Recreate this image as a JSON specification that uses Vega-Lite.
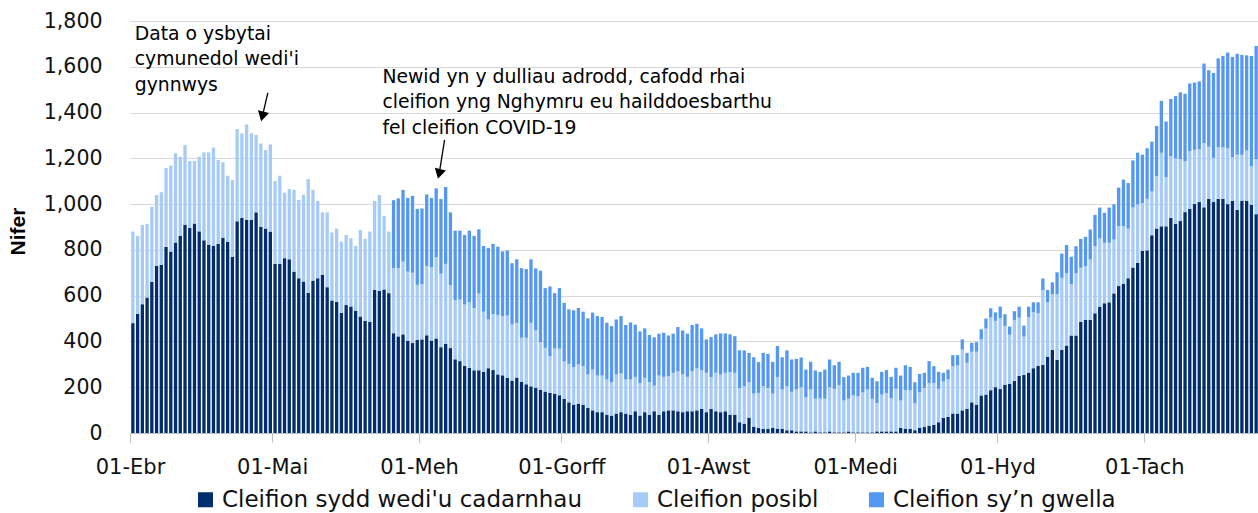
{
"$schema":"https://vega.github.io/schema/vega-lite/v6.json",
"autosize":{"type":"none"},
"padding":{"left":130,"top":21,"right":0,"bottom":80},
"width":1128,
"height":412,
"config":{"view":{"stroke":null},"font":"DejaVu Sans"},
"datasets":{
"bars":[
{"d":"2020-04-01","a":480,"b":400,"c":0},{"d":"2020-04-02","a":521,"b":340,"c":0},{"d":"2020-04-03","a":563,"b":346,"c":0},{"d":"2020-04-04","a":592,"b":321,"c":0},{"d":"2020-04-05","a":660,"b":328,"c":0},{"d":"2020-04-06","a":730,"b":310,"c":0},{"d":"2020-04-07","a":735,"b":317,"c":0},{"d":"2020-04-08","a":813,"b":345,"c":0},{"d":"2020-04-09","a":793,"b":375,"c":0},{"d":"2020-04-10","a":832,"b":390,"c":0},
{"d":"2020-04-11","a":861,"b":346,"c":0},{"d":"2020-04-12","a":910,"b":348,"c":0},{"d":"2020-04-13","a":896,"b":292,"c":0},{"d":"2020-04-14","a":915,"b":273,"c":0},{"d":"2020-04-15","a":881,"b":326,"c":0},{"d":"2020-04-16","a":842,"b":384,"c":0},{"d":"2020-04-17","a":823,"b":403,"c":0},{"d":"2020-04-18","a":817,"b":430,"c":0},{"d":"2020-04-19","a":826,"b":367,"c":0},{"d":"2020-04-20","a":852,"b":331,"c":0},
{"d":"2020-04-21","a":836,"b":288,"c":0},{"d":"2020-04-22","a":769,"b":336,"c":0},{"d":"2020-04-23","a":925,"b":403,"c":0},{"d":"2020-04-24","a":940,"b":369,"c":0},{"d":"2020-04-25","a":931,"b":417,"c":0},{"d":"2020-04-26","a":931,"b":378,"c":0},{"d":"2020-04-27","a":964,"b":338,"c":0},{"d":"2020-04-28","a":900,"b":365,"c":0},{"d":"2020-04-29","a":893,"b":343,"c":0},{"d":"2020-04-30","a":880,"b":381,"c":0},
{"d":"2020-05-01","a":739,"b":362,"c":0},{"d":"2020-05-02","a":739,"b":385,"c":0},{"d":"2020-05-03","a":764,"b":286,"c":0},{"d":"2020-05-04","a":759,"b":307,"c":0},{"d":"2020-05-05","a":705,"b":357,"c":0},{"d":"2020-05-06","a":676,"b":342,"c":0},{"d":"2020-05-07","a":662,"b":379,"c":0},{"d":"2020-05-08","a":612,"b":498,"c":0},{"d":"2020-05-09","a":666,"b":396,"c":0},{"d":"2020-05-10","a":676,"b":338,"c":0},
{"d":"2020-05-11","a":691,"b":273,"c":0},{"d":"2020-05-12","a":637,"b":327,"c":0},{"d":"2020-05-13","a":579,"b":297,"c":0},{"d":"2020-05-14","a":573,"b":320,"c":0},{"d":"2020-05-15","a":525,"b":311,"c":0},{"d":"2020-05-16","a":559,"b":306,"c":0},{"d":"2020-05-17","a":553,"b":298,"c":0},{"d":"2020-05-18","a":534,"b":283,"c":0},{"d":"2020-05-19","a":509,"b":378,"c":0},{"d":"2020-05-20","a":490,"b":358,"c":0},
{"d":"2020-05-21","a":486,"b":394,"c":0},{"d":"2020-05-22","a":625,"b":389,"c":0},{"d":"2020-05-23","a":621,"b":419,"c":0},{"d":"2020-05-24","a":627,"b":321,"c":0},{"d":"2020-05-25","a":611,"b":269,"c":0},{"d":"2020-05-26","a":436,"b":284,"c":297},{"d":"2020-05-27","a":422,"b":298,"c":305},{"d":"2020-05-28","a":431,"b":318,"c":313},{"d":"2020-05-29","a":403,"b":302,"c":322},{"d":"2020-05-30","a":393,"b":307,"c":336},{"d":"2020-05-31","a":407,"b":240,"c":332},
{"d":"2020-06-01","a":409,"b":242,"c":330},{"d":"2020-06-02","a":427,"b":303,"c":312},{"d":"2020-06-03","a":404,"b":321,"c":302},{"d":"2020-06-04","a":413,"b":355,"c":301},{"d":"2020-06-05","a":375,"b":321,"c":326},{"d":"2020-06-06","a":390,"b":349,"c":336},{"d":"2020-06-07","a":371,"b":275,"c":318},{"d":"2020-06-08","a":322,"b":258,"c":304},{"d":"2020-06-09","a":314,"b":269,"c":301},{"d":"2020-06-10","a":293,"b":268,"c":304},
{"d":"2020-06-11","a":284,"b":287,"c":313},{"d":"2020-06-12","a":274,"b":272,"c":315},{"d":"2020-06-13","a":274,"b":335,"c":281},{"d":"2020-06-14","a":267,"b":263,"c":287},{"d":"2020-06-15","a":283,"b":213,"c":313},{"d":"2020-06-16","a":275,"b":245,"c":306},{"d":"2020-06-17","a":256,"b":260,"c":298},{"d":"2020-06-18","a":252,"b":258,"c":283},{"d":"2020-06-19","a":241,"b":272,"c":284},{"d":"2020-06-20","a":229,"b":245,"c":268},
{"d":"2020-06-21","a":242,"b":239,"c":278},{"d":"2020-06-22","a":223,"b":193,"c":304},{"d":"2020-06-23","a":213,"b":203,"c":300},{"d":"2020-06-24","a":204,"b":277,"c":278},{"d":"2020-06-25","a":198,"b":250,"c":271},{"d":"2020-06-26","a":188,"b":209,"c":312},{"d":"2020-06-27","a":181,"b":191,"c":261},{"d":"2020-06-28","a":175,"b":161,"c":304},{"d":"2020-06-29","a":172,"b":197,"c":242},{"d":"2020-06-30","a":165,"b":203,"c":265},
{"d":"2020-07-01","a":149,"b":163,"c":257},{"d":"2020-07-02","a":134,"b":168,"c":238},{"d":"2020-07-03","a":124,"b":164,"c":248},{"d":"2020-07-04","a":128,"b":171,"c":247},{"d":"2020-07-05","a":123,"b":169,"c":238},{"d":"2020-07-06","a":110,"b":146,"c":245},{"d":"2020-07-07","a":99,"b":178,"c":249},{"d":"2020-07-08","a":91,"b":160,"c":260},{"d":"2020-07-09","a":91,"b":160,"c":256},{"d":"2020-07-10","a":80,"b":154,"c":248},
{"d":"2020-07-11","a":76,"b":146,"c":245},{"d":"2020-07-12","a":85,"b":171,"c":240},{"d":"2020-07-13","a":91,"b":169,"c":251},{"d":"2020-07-14","a":85,"b":149,"c":238},{"d":"2020-07-15","a":80,"b":154,"c":249},{"d":"2020-07-16","a":95,"b":150,"c":228},{"d":"2020-07-17","a":76,"b":142,"c":226},{"d":"2020-07-18","a":91,"b":150,"c":216},{"d":"2020-07-19","a":80,"b":142,"c":206},{"d":"2020-07-20","a":95,"b":112,"c":211},
{"d":"2020-07-21","a":80,"b":171,"c":183},{"d":"2020-07-22","a":95,"b":150,"c":193},{"d":"2020-07-23","a":99,"b":149,"c":178},{"d":"2020-07-24","a":99,"b":164,"c":171},{"d":"2020-07-25","a":95,"b":174,"c":194},{"d":"2020-07-26","a":91,"b":165,"c":192},{"d":"2020-07-27","a":95,"b":150,"c":189},{"d":"2020-07-28","a":95,"b":175,"c":202},{"d":"2020-07-29","a":99,"b":183,"c":195},{"d":"2020-07-30","a":105,"b":169,"c":183},{"d":"2020-07-31","a":91,"b":172,"c":146},
{"d":"2020-08-01","a":105,"b":140,"c":174},{"d":"2020-08-02","a":95,"b":168,"c":168},{"d":"2020-08-03","a":91,"b":164,"c":180},{"d":"2020-08-04","a":95,"b":168,"c":172},{"d":"2020-08-05","a":80,"b":186,"c":165},{"d":"2020-08-06","a":80,"b":183,"c":160},{"d":"2020-08-07","a":47,"b":150,"c":164},{"d":"2020-08-08","a":41,"b":163,"c":157},{"d":"2020-08-09","a":67,"b":155,"c":128},{"d":"2020-08-10","a":28,"b":144,"c":159},
{"d":"2020-08-11","a":22,"b":153,"c":135},{"d":"2020-08-12","a":18,"b":186,"c":146},{"d":"2020-08-13","a":18,"b":179,"c":149},{"d":"2020-08-14","a":23,"b":149,"c":139},{"d":"2020-08-15","a":19,"b":225,"c":136},{"d":"2020-08-16","a":19,"b":171,"c":141},{"d":"2020-08-17","a":12,"b":192,"c":157},{"d":"2020-08-18","a":12,"b":168,"c":141},{"d":"2020-08-19","a":7,"b":183,"c":134},{"d":"2020-08-20","a":7,"b":193,"c":130},
{"d":"2020-08-21","a":7,"b":149,"c":121},{"d":"2020-08-22","a":3,"b":187,"c":121},{"d":"2020-08-23","a":7,"b":143,"c":123},{"d":"2020-08-24","a":3,"b":147,"c":117},{"d":"2020-08-25","a":3,"b":147,"c":127},{"d":"2020-08-26","a":7,"b":193,"c":121},{"d":"2020-08-27","a":3,"b":190,"c":103},{"d":"2020-08-28","a":3,"b":206,"c":102},{"d":"2020-08-29","a":3,"b":139,"c":102},{"d":"2020-08-30","a":7,"b":143,"c":101},{"d":"2020-08-31","a":3,"b":162,"c":98},
{"d":"2020-09-01","a":3,"b":157,"c":103},{"d":"2020-09-02","a":3,"b":175,"c":107},{"d":"2020-09-03","a":3,"b":187,"c":99},{"d":"2020-09-04","a":3,"b":146,"c":92},{"d":"2020-09-05","a":7,"b":124,"c":95},{"d":"2020-09-06","a":7,"b":161,"c":99},{"d":"2020-09-07","a":7,"b":168,"c":100},{"d":"2020-09-08","a":7,"b":146,"c":92},{"d":"2020-09-09","a":7,"b":186,"c":92},{"d":"2020-09-10","a":22,"b":120,"c":109},
{"d":"2020-09-11","a":19,"b":169,"c":108},{"d":"2020-09-12","a":18,"b":168,"c":103},{"d":"2020-09-13","a":12,"b":118,"c":92},{"d":"2020-09-14","a":22,"b":155,"c":81},{"d":"2020-09-15","a":26,"b":171,"c":66},{"d":"2020-09-16","a":32,"b":186,"c":96},{"d":"2020-09-17","a":36,"b":183,"c":73},{"d":"2020-09-18","a":47,"b":146,"c":74},{"d":"2020-09-19","a":66,"b":159,"c":38},{"d":"2020-09-20","a":70,"b":164,"c":43},
{"d":"2020-09-21","a":85,"b":207,"c":48},{"d":"2020-09-22","a":85,"b":210,"c":45},{"d":"2020-09-23","a":99,"b":266,"c":44},{"d":"2020-09-24","a":105,"b":202,"c":43},{"d":"2020-09-25","a":134,"b":221,"c":39},{"d":"2020-09-26","a":124,"b":231,"c":42},{"d":"2020-09-27","a":164,"b":245,"c":44},{"d":"2020-09-28","a":168,"b":288,"c":44},{"d":"2020-09-29","a":187,"b":318,"c":40},{"d":"2020-09-30","a":200,"b":290,"c":37},
{"d":"2020-10-01","a":192,"b":309,"c":51},{"d":"2020-10-02","a":211,"b":257,"c":51},{"d":"2020-10-03","a":215,"b":214,"c":36},{"d":"2020-10-04","a":227,"b":267,"c":38},{"d":"2020-10-05","a":250,"b":254,"c":48},{"d":"2020-10-06","a":254,"b":167,"c":48},{"d":"2020-10-07","a":264,"b":242,"c":46},{"d":"2020-10-08","a":283,"b":244,"c":44},{"d":"2020-10-09","a":293,"b":230,"c":48},{"d":"2020-10-10","a":298,"b":327,"c":50},
{"d":"2020-10-11","a":333,"b":238,"c":54},{"d":"2020-10-12","a":363,"b":243,"c":52},{"d":"2020-10-13","a":320,"b":287,"c":95},{"d":"2020-10-14","a":363,"b":315,"c":106},{"d":"2020-10-15","a":382,"b":315,"c":124},{"d":"2020-10-16","a":426,"b":225,"c":119},{"d":"2020-10-17","a":426,"b":271,"c":119},{"d":"2020-10-18","a":485,"b":237,"c":126},{"d":"2020-10-19","a":494,"b":235,"c":128},{"d":"2020-10-20","a":494,"b":264,"c":131},
{"d":"2020-10-21","a":523,"b":293,"c":137},{"d":"2020-10-22","a":552,"b":298,"c":135},{"d":"2020-10-23","a":567,"b":264,"c":131},{"d":"2020-10-24","a":571,"b":260,"c":154},{"d":"2020-10-25","a":610,"b":235,"c":154},{"d":"2020-10-26","a":642,"b":262,"c":168},{"d":"2020-10-27","a":651,"b":253,"c":203},{"d":"2020-10-28","a":676,"b":217,"c":199},{"d":"2020-10-29","a":723,"b":262,"c":206},{"d":"2020-10-30","a":744,"b":255,"c":226},{"d":"2020-10-31","a":796,"b":209,"c":211},
{"d":"2020-11-01","a":798,"b":225,"c":221},{"d":"2020-11-02","a":864,"b":191,"c":218},{"d":"2020-11-03","a":893,"b":229,"c":219},{"d":"2020-11-04","a":903,"b":321,"c":227},{"d":"2020-11-05","a":903,"b":215,"c":243},{"d":"2020-11-06","a":940,"b":270,"c":249},{"d":"2020-11-07","a":914,"b":286,"c":272},{"d":"2020-11-08","a":926,"b":270,"c":292},{"d":"2020-11-09","a":965,"b":222,"c":295},{"d":"2020-11-10","a":980,"b":251,"c":296},
{"d":"2020-11-11","a":1000,"b":237,"c":294},{"d":"2020-11-12","a":1009,"b":231,"c":296},{"d":"2020-11-13","a":986,"b":281,"c":347},{"d":"2020-11-14","a":1023,"b":228,"c":334},{"d":"2020-11-15","a":1009,"b":193,"c":371},{"d":"2020-11-16","a":1023,"b":225,"c":389},{"d":"2020-11-17","a":1023,"b":225,"c":399},{"d":"2020-11-18","a":1000,"b":245,"c":417},{"d":"2020-11-19","a":1015,"b":190,"c":438},{"d":"2020-11-20","a":975,"b":241,"c":441},
{"d":"2020-11-21","a":1015,"b":200,"c":437},{"d":"2020-11-22","a":1015,"b":219,"c":416},{"d":"2020-11-23","a":997,"b":168,"c":482},{"d":"2020-11-24","a":956,"b":241,"c":494}
],
"notes":[
{"d":"2020-04-02T00:00:00Z","v":1717,"t":"Data o ysbytai\ncymunedol wedi'i\ngynnwys"},
{"d":"2020-05-24T06:00:00Z","v":1530,"t":"Newid yn y dulliau adrodd, cafodd rhai\ncleifion yng Nghymru eu hailddoesbarthu\nfel cleifion COVID-19"}
],
"arrows":[
{"x1":"2020-04-30T02:00:00Z","y1":1486,"x2":"2020-04-28T22:00:00Z","y2":1383},
{"x1":"2020-06-06T09:00:00Z","y1":1281,"x2":"2020-06-05T05:30:00Z","y2":1132}
]
},
"layer":[
{
"data":{"name":"bars"},
"transform":[{"fold":["a","b","c"],"as":["k","v"]}],
"mark":{"type":"bar","width":{"band":0.7},"binSpacing":0},
"encoding":{
"x":{"field":"d","timeUnit":"utcyearmonthdate","type":"temporal",
"scale":{"type":"utc","domain":[{"year":2020,"month":4,"date":1,"utc":true},{"year":2020,"month":11,"date":25,"utc":true}]},
"axis":{"title":null,"values":[{"year":2020,"month":4,"date":1,"utc":true},{"year":2020,"month":5,"date":1,"utc":true},{"year":2020,"month":6,"date":1,"utc":true},{"year":2020,"month":7,"date":1,"utc":true},{"year":2020,"month":8,"date":1,"utc":true},{"year":2020,"month":9,"date":1,"utc":true},{"year":2020,"month":10,"date":1,"utc":true},{"year":2020,"month":11,"date":1,"utc":true}],
"labelExpr":"'01-' + ['Ion','Chwef','Maw','Ebr','Mai','Meh','Gorff','Awst','Medi','Hyd','Tach','Rhag'][utcmonth(datum.value)]",
"grid":false,"ticks":true,"tickSize":9,"tickColor":"#bfbfbf","domainColor":"#bfbfbf","domainWidth":1,
"labelFont":"DejaVu Sans","labelFontSize":21,"labelColor":"#111111","labelPadding":14,"labelFlush":false,"labelOverlap":false}},
"y":{"field":"v","type":"quantitative","stack":"zero","scale":{"domain":[0,1800],"nice":false},
"axis":{"title":"Nifer","values":[0,200,400,600,800,1000,1200,1400,1600,1800],"format":",d","ticks":false,"domain":false,"grid":true,"gridColor":"#d9d9d9","gridWidth":1,
"labelFont":"DejaVu Sans","labelFontSize":20.5,"labelColor":"#111111","labelPadding":28,
"titleFont":"Liberation Sans","titleFontSize":21,"titleFontWeight":"bold","titleColor":"#000000","titleX":-112,"titleY":210,"titleAngle":-90,"titleBaseline":"middle","titleAlign":"center"}},
"order":{"field":"k","sort":"ascending"},
"color":{"field":"k","type":"nominal","scale":{"domain":["a","b","c"],"range":["#002d6e","#a7cbf7","#5598f2"]},
"legend":{"title":null,"orient":"none","legendX":64,"legendY":467,"direction":"horizontal","columns":3,"symbolType":"square","symbolSize":225,"symbolStrokeWidth":0,
"labelFont":"DejaVu Sans","labelFontSize":23,"labelColor":"#111111","labelLimit":600,"labelOffset":5,"columnPadding":46,"padding":0,
"labelExpr":"datum.label == 'a' ? \"Cleifion sydd wedi'u cadarnhau\" : datum.label == 'b' ? 'Cleifion posibl' : 'Cleifion sy’n gwella'"}}
}
},
{
"data":{"name":"notes"},
"mark":{"type":"text","align":"left","baseline":"alphabetic","lineBreak":"\n","font":"DejaVu Sans","fontSize":18.8,"lineHeight":25.5,"color":"#000000"},
"encoding":{
"x":{"field":"d","type":"temporal","scale":{"type":"utc","domain":[{"year":2020,"month":4,"date":1,"utc":true},{"year":2020,"month":11,"date":25,"utc":true}]}},
"y":{"field":"v","type":"quantitative","scale":{"domain":[0,1800],"nice":false}},
"text":{"field":"t"}
}
},
{
"data":{"name":"arrows"},
"mark":{"type":"rule","color":"#000000","strokeWidth":1.3},
"encoding":{
"x":{"field":"x1","type":"temporal","scale":{"type":"utc","domain":[{"year":2020,"month":4,"date":1,"utc":true},{"year":2020,"month":11,"date":25,"utc":true}]}},
"x2":{"field":"x2"},
"y":{"field":"y1","type":"quantitative","scale":{"domain":[0,1800],"nice":false}},
"y2":{"field":"y2"}
}
},
{
"data":{"name":"arrows"},
"mark":{"type":"point","shape":"triangle-down","filled":true,"size":130,"angle":14,"color":"#000000","opacity":1},
"encoding":{
"x":{"field":"x2","type":"temporal","scale":{"type":"utc","domain":[{"year":2020,"month":4,"date":1,"utc":true},{"year":2020,"month":11,"date":25,"utc":true}]}},
"y":{"field":"y2","type":"quantitative","scale":{"domain":[0,1800],"nice":false}}
}
}
]
}
